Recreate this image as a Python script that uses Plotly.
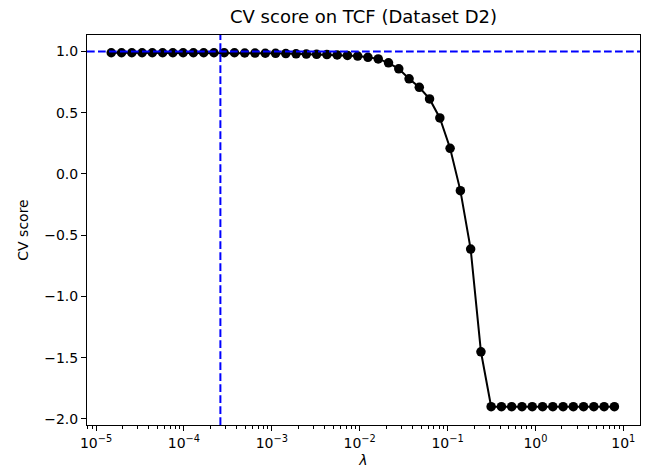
import plotly.graph_objects as go

# regularisation strengths (lambda)
lambdas = [1.489e-5, 1.950e-5, 2.553e-5, 3.342e-5, 4.37e-5, 5.72e-5, 7.48e-5, 9.79e-5,
           1.282e-4, 1.678e-4, 2.196e-4, 2.873e-4, 3.76e-4, 4.92e-4, 6.44e-4, 8.43e-4,
           1.104e-3, 1.443e-3, 1.889e-3, 2.472e-3, 3.236e-3, 4.236e-3, 5.546e-3, 7.26e-3,
           9.49e-3, 1.242e-2, 1.626e-2, 2.128e-2, 2.786e-2, 3.648e-2, 4.77e-2, 6.24e-2,
           8.17e-2, 0.1069, 0.1400, 0.1832, 0.2399, 0.3133, 0.4102, 0.537,
           0.703, 0.920, 1.205, 1.577, 2.065, 2.70, 3.53, 4.62, 6.05, 7.92]

# CV scores
cv_scores = [0.99, 0.99, 0.99, 0.99, 0.99, 0.99, 0.99, 0.99, 0.99, 0.99,
             0.99, 0.99, 0.99, 0.988, 0.987, 0.986, 0.985, 0.983, 0.981, 0.979,
             0.977, 0.975, 0.972, 0.968, 0.963, 0.953, 0.94, 0.908, 0.859, 0.777,
             0.708, 0.613, 0.458, 0.21, -0.136, -0.613, -1.452, -1.90, -1.90, -1.90,
             -1.90, -1.90, -1.90, -1.90, -1.90, -1.90, -1.90, -1.90, -1.90, -1.90]

best_lambda = 2.6e-4
ref_score = 1.0

major_exp = [-5, -4, -3, -2, -1, 0, 1]
y_ticks = [-2.0, -1.5, -1.0, -0.5, 0.0, 0.5, 1.0]

major_vals = [10.0 ** e for e in major_exp]
major_text = ["10<sup>\u2212%d</sup>" % (-e) if e < 0 else "10<sup>%d</sup>" % e for e in major_exp]
minor_vals = [m * 10.0 ** e for e in range(-6, 2) for m in range(2, 10)]

fig = go.Figure()
fig.add_trace(go.Scatter(
    x=lambdas, y=cv_scores, mode="lines+markers",
    line=dict(color="black", width=2),
    marker=dict(color="black", size=9.5),
    showlegend=False, hoverinfo="skip",
))

dash = "7.7px,3.3px"
fig.add_shape(type="line", xref="paper", x0=0, x1=1, yref="y", y0=ref_score, y1=ref_score,
              line=dict(color="#0000ff", width=2, dash=dash), layer="above")
fig.add_shape(type="line", xref="x", x0=best_lambda, x1=best_lambda, yref="paper", y0=0, y1=1,
              line=dict(color="#0000ff", width=2, dash=dash), layer="above")

font = "DejaVu Sans, sans-serif"
fig.update_layout(
    width=648, height=473,
    margin=dict(l=87, r=8, t=35, b=48),
    paper_bgcolor="white", plot_bgcolor="white",
    font=dict(family=font, size=14, color="black"),
    title=dict(text="CV score on TCF (Dataset D2)", xref="paper", x=0.5, xanchor="center",
               y=1 - 17 / 473, yanchor="middle", font=dict(size=18, family=font, color="black")),
    xaxis=dict(
        type="log", range=[-5.103, 1.19],
        tickmode="array", tickvals=major_vals, ticktext=major_text,
        ticks="outside", ticklen=5, tickwidth=1, tickcolor="black",
        showline=True, linecolor="black", linewidth=1, mirror=True,
        showgrid=False, zeroline=False,
        minor=dict(tickmode="array", tickvals=minor_vals, ticks="outside", ticklen=3,
                   tickwidth=0.7, tickcolor="black", showgrid=False),
        title=dict(text="<i>λ</i>", standoff=5, font=dict(size=14, color="black")),
        tickfont=dict(size=14, color="black"),
    ),
    yaxis=dict(
        range=[-2.05, 1.135],
        tickmode="array", tickvals=y_ticks, tickformat=".1f",
        ticks="outside", ticklen=5, tickwidth=1, tickcolor="black",
        showline=True, linecolor="black", linewidth=1, mirror=True,
        showgrid=False, zeroline=False,
        title=dict(text="CV score", standoff=12, font=dict(size=14, color="black")),
        tickfont=dict(size=14, color="black"),
    ),
)

fig.write_html("out.html", config={"displayModeBar": False},
               post_script="document.body.style.margin='0px';document.body.style.padding='0px';")
